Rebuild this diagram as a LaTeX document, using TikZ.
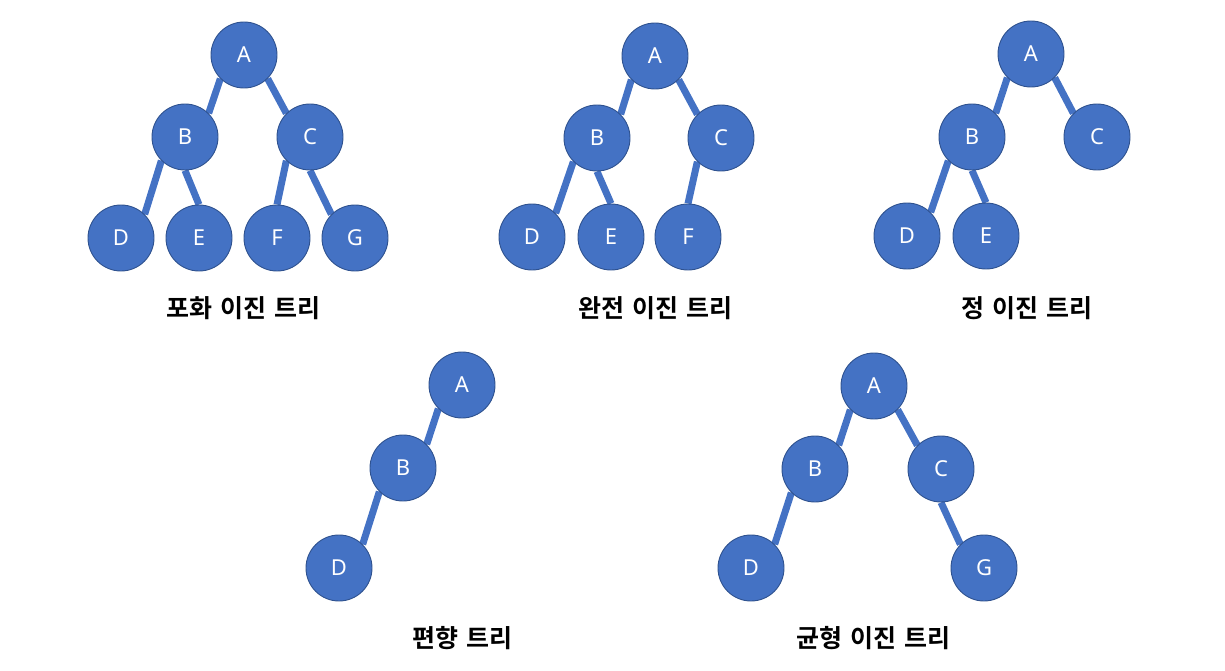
\documentclass[tikz,border=0pt]{standalone}
\usepackage{fontspec}
\usetikzlibrary{backgrounds}
\setmainfont{Noto Sans}
\newfontfamily\kofont{Noto Sans CJK KR}[BoldFont={* Bold}]
\definecolor{nodeblue}{HTML}{4472C4}
\definecolor{rimblue}{HTML}{2F528F}
\newcommand{\kgap}{\hspace{8pt}}
\begin{document}
\begin{tikzpicture}[x=1pt,y=-1pt,
  tn/.style={circle,fill=nodeblue,draw=rimblue,line width=0.9pt,minimum size=66pt,inner sep=0pt,text=white,font=\fontsize{22}{24}\selectfont},
  ed/.style={draw=nodeblue,line width=7pt},
  lbl/.style={font=\kofont\bfseries\fontsize{25}{28}\selectfont,text=black}]
\useasboundingbox (0,0) rectangle (1225,671);
% Tree 1
\node[tn] (a1) at (244,55) {A};
\node[tn] (b1) at (185,137) {B};
\node[tn] (c1) at (310,137) {C};
\node[tn] (d1) at (121,238) {D};
\node[tn] (e1) at (199,238) {E};
\node[tn] (f1) at (277,238) {F};
\node[tn] (g1) at (355,238) {G};
\node[lbl] (l1) at (243,308) {포화\kgap 이진\kgap 트리};
% Tree 2
\node[tn] (a2) at (655,56) {A};
\node[tn] (b2) at (597,138) {B};
\node[tn] (c2) at (721,138) {C};
\node[tn] (d2) at (532,237) {D};
\node[tn] (e2) at (611,237) {E};
\node[tn] (f2) at (688,237) {F};
\node[lbl] (l2) at (655,308) {완전\kgap 이진\kgap 트리};
% Tree 3
\node[tn] (a3) at (1031,54) {A};
\node[tn] (b3) at (972,137) {B};
\node[tn] (c3) at (1097,137) {C};
\node[tn] (d3) at (907,236) {D};
\node[tn] (e3) at (986,236) {E};
\node[lbl] (l3) at (1027,308) {정\kgap 이진\kgap 트리};
% Tree 4
\node[tn] (a4) at (462,385) {A};
\node[tn] (b4) at (403,468) {B};
\node[tn] (d4) at (339,568) {D};
\node[lbl] (l4) at (462,638) {편향\kgap 트리};
% Tree 5
\node[tn] (a5) at (874,386) {A};
\node[tn] (b5) at (815,469) {B};
\node[tn] (c5) at (941,469) {C};
\node[tn] (d5) at (751,568) {D};
\node[tn] (g5) at (984,568) {G};
\node[lbl] (l5) at (873,638) {균형\kgap 이진\kgap 트리};
% Edges (behind nodes)
\begin{pgfonlayer}{background}
\draw[ed] (a1.-135) -- (b1.45);
\draw[ed] (a1.-45) -- (c1.135);
\draw[ed] (b1.-135) -- (d1.45);
\draw[ed] (b1.-90) -- (e1.90);
\draw[ed] (c1.-135) -- (f1.90);
\draw[ed] (c1.-90) -- (g1.135);
\draw[ed] (a2.-135) -- (b2.45);
\draw[ed] (a2.-45) -- (c2.135);
\draw[ed] (b2.-135) -- (d2.45);
\draw[ed] (b2.-90) -- (e2.90);
\draw[ed] (c2.-135) -- (f2.90);
\draw[ed] (a3.-135) -- (b3.45);
\draw[ed] (a3.-45) -- (c3.135);
\draw[ed] (b3.-135) -- (d3.45);
\draw[ed] (b3.-90) -- (e3.90);
\draw[ed] (a4.-135) -- (b4.45);
\draw[ed] (b4.-135) -- (d4.45);
\draw[ed] (a5.-135) -- (b5.45);
\draw[ed] (a5.-45) -- (c5.135);
\draw[ed] (b5.-135) -- (d5.45);
\draw[ed] (c5.-90) -- (g5.135);
\end{pgfonlayer}
\end{tikzpicture}
\end{document}
